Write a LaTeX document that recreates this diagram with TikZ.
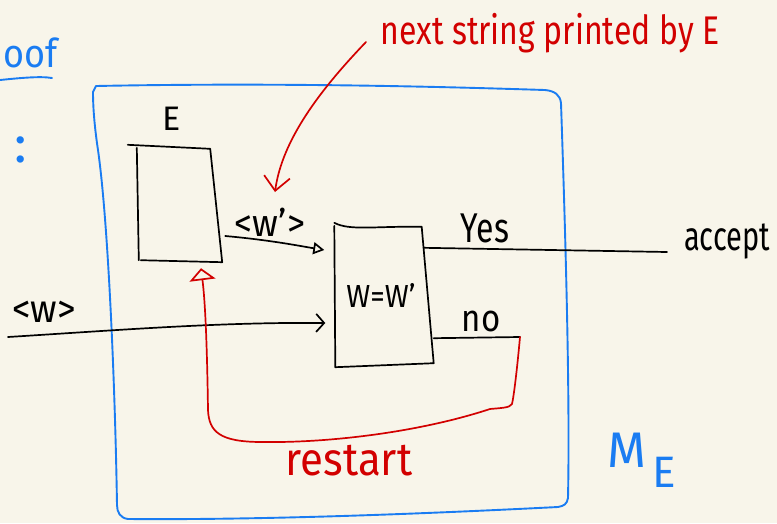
\documentclass[tikz,border=0pt]{standalone}
\usepackage{fontspec}
\usepackage{graphicx}
\setmainfont{Fira Sans}
\usetikzlibrary{arrows.meta}
\definecolor{paper}{HTML}{F8F5EA}
\definecolor{inkblue}{HTML}{1A7CF2}
\definecolor{inkred}{HTML}{D20000}
% tall, narrow lettering like a pen note
\newcommand\hw[2][1.3]{\scalebox{1}[#1]{#2}}
\newcommand\fs[1]{\fontsize{#1}{#1}\selectfont}
\begin{document}
\begin{tikzpicture}[x=1pt,y=-1pt,line cap=round,line join=round,
  pen/.style={line width=1.7pt,black},
  bluepen/.style={line width=1.9pt,inkblue},
  redpen/.style={line width=1.7pt,inkred},
  lbl/.style={font=\fs{32},inner sep=0pt},
  box/.style={draw=none,inner sep=0pt}]
\fill[paper] (0,0) rectangle (777,523);
\useasboundingbox (0,0) rectangle (777,523);

% outer machine frame
\draw[bluepen] (96,86) .. controls (300,82) and (480,88) .. (545,90)
  .. controls (555,91) and (560,95) .. (561,103)
  .. controls (566,250) and (570,400) .. (568,498)
  .. controls (567,504) and (564,506) .. (558,507)
  .. controls (400,515) and (250,520) .. (128,519)
  .. controls (120,518) and (117,512) .. (117,505)
  .. controls (115,380) and (108,220) .. (98,150)
  .. controls (95,130) and (93,110) .. (93,92) -- cycle;

% enumerator E
\node[box,minimum width=84pt,minimum height=114pt] (E) at (179,205) {};
\draw[pen] ([shift={(-9,-3)}]E.north west) -- ([shift={(-11,1)}]E.north east)
  -- ([shift={(1,0)}]E.south east) -- ([shift={(4,-2)}]E.south west);
\draw[pen] (E.north west) -- ([shift={(2,-2)}]E.south west);
\node[lbl,font=\fs{34}] (Elab) at (172,119) {E};

% comparator
\node[box,minimum width=93pt,minimum height=142pt,font=\fs{29}] (W) at (381,295) {\hw[1.1]{W=W'}};
\draw[pen] ([shift={(0,-1)}]W.north west) .. controls (350,231) and (375,226) .. ([shift={(-6,3)}]W.north east)
  -- ([shift={(6,-3)}]W.south east) -- ([shift={(1,1)}]W.south west) -- ([shift={(0,2)}]W.north west);

% labels
\node[lbl,font=\fs{36}] (wp) at (270,222) {\hw[1.05]{<w'>}};
\node[lbl,font=\fs{37}] (w) at (44,312) {\hw[1.05]{<w>}};
\node[lbl] (yes) at (485,228) {\hw{Yes}};
\node[lbl,font=\fs{33}] (no) at (481,321) {\hw[1.15]{no}};
\node[lbl,font=\fs{29}] (acc) at (727,241) {\hw[1.4]{accept}};
\node[lbl,text=inkred,font=\fs{42}] (rst) at (349,461) {\hw[1.1]{restart}};
\node[lbl,text=inkred] (note) at (550,33) {\hw[1.25]{next string printed by E}};
\node[lbl,text=inkblue,font=\fs{50}] (ME) at (642,460) {M\hspace{6pt}\raisebox{-20pt}{\fs{44}E}};
\node[lbl,text=inkblue,font=\fs{36},anchor=south east] (proof) at (58,68) {\hw[1.1]{oof}};
\node[lbl,text=inkblue,font=\fs{52}] (dots) at (21,150) {:};
\draw[bluepen] (0,80) .. controls (20,78) and (40,76) .. (52,78);

% free ends
\coordinate (in) at (8,337);
\coordinate (out) at (667,252);
\coordinate (noend) at (520,337);
\coordinate (ptr) at (366,42);

% connectors
\draw[pen,-{Triangle[open,length=11pt,width=12pt]}] ([shift={(4,31)}]E.east)
  .. controls (270,240) and (300,246) .. ([shift={(-10,-45)}]W.west);
\draw[pen,-{Straight Barb[length=8pt,width=18pt]}] (in)
  .. controls (120,330) and (220,322) .. ([shift={(-9,28)}]W.west);
\draw[pen] ([shift={(-4,24)}]W.north east) -- (out);
\draw[pen] ([shift={(6,-28)}]W.south east) -- (noend);
\draw[redpen,-{Triangle[open,length=12pt,width=26pt]}] (noend)
  .. controls (517,370) and (514,395) .. (512,404)
  .. controls (510,408) and (500,408) .. (490,409)
  .. controls (420,432) and (330,443) .. (262,442)
  .. controls (220,442) and (209,432) .. (208,410)
  .. controls (207,340) and (205,300) .. ([shift={(22,6)}]E.south);
\draw[redpen,-{Straight Barb[length=14pt,width=26pt]}] (ptr)
  .. controls (320,90) and (282,140) .. ([shift={(5,-30)}]wp.center);
\end{tikzpicture}
\end{document}
